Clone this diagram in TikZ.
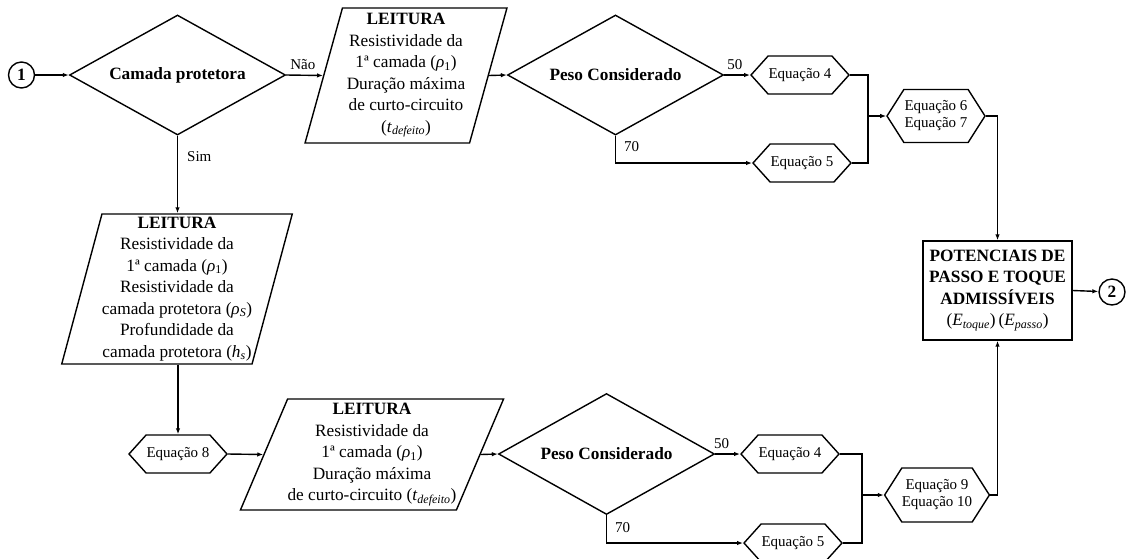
\documentclass[tikz,border=0pt]{standalone}
\usepackage{fontspec}
\setmainfont{Liberation Serif}
\usetikzlibrary{shapes.geometric,shapes.symbols,arrows.meta}

% variable with an italic subscript, set in the text font
\newcommand{\varsub}[2]{(\textit{#1}\textsubscript{#2})}

\begin{document}
\begin{tikzpicture}[x=1pt,y=-1pt,
  line width=1.4pt,
  big/.style={font=\fontsize{17.28}{21.5}\selectfont},
  small/.style={font=\fontsize{15}{17}\selectfont},
  flow/.style={-{Latex[length=6pt,width=4.5pt]}},
  decision/.style={diamond,draw,big,inner sep=0pt,aspect=1.8,minimum width=216,minimum height=120},
  readbox/.style={trapezium,draw,big,align=center,inner sep=0pt,trapezium stretches=true},
  calc/.style={signal,signal to=west and east,draw,small,align=center,inner sep=0pt,minimum width=98},
  connector/.style={circle,draw,font=\fontsize{17.28}{20}\selectfont\bfseries,inner sep=0pt,minimum size=26},
  resultbox/.style={rectangle,draw,big,align=center,inner sep=0pt,minimum width=149,minimum height=99},
  tag/.style={small,inner sep=0pt}
]
\useasboundingbox (0,0) rectangle (1127,558);

% ---- upper branch ----
\node[connector] (c1) at (21.5,75) {1};
\node[decision] (d1) at (177.5,75) {\bfseries Camada protetora};
\node[readbox,trapezium left angle=74.3,trapezium right angle=105.7,
      minimum width=202,minimum height=135] (p1) at (406,75.5)
  {\textbf{LEITURA}\\Resistividade da\\1ª camada \varsub{ρ}{1}\\Duração máxima\\de curto-circuito\\\varsub{t}{\textit{defeito}}};
\node[decision] (d2) at (615.5,75) {\bfseries Peso Considerado};
\node[calc,minimum height=38,signal pointer angle=96] (e4a) at (800,75) {Equação 4};
\node[calc,minimum height=38,signal pointer angle=96] (e5a) at (802,163) {Equação 5};
\node[calc,minimum height=53,signal pointer angle=115] (e67) at (936,116) {Equação 6\\Equação 7};
\coordinate (j1) at (868,116);

% ---- result ----
\node[resultbox] (pot) at (997.5,290.5)
  {\textbf{POTENCIAIS DE}\\\textbf{PASSO E TOQUE}\\\textbf{ADMISSÍVEIS}\\\varsub{E}{\textit{toque}}\,\varsub{E}{\textit{passo}}};
\node[connector] (c2) at (1112,292) {2};

% ---- lower branch ----
\node[readbox,trapezium left angle=74.4,trapezium right angle=105.6,
      minimum width=216,minimum height=150] (p2) at (177,289)
  {\textbf{LEITURA}\\Resistividade da\\1ª camada \varsub{ρ}{1}\\Resistividade da\\camada protetora \varsub{ρ}{\textit{S}}\\Profundidade da\\camada protetora \varsub{h}{\textit{s}}};
\node[calc,minimum height=38,signal pointer angle=96] (e8) at (178,454) {Equação 8};
\node[readbox,trapezium left angle=65.3,trapezium right angle=114.7,
      minimum width=246,minimum height=111] (p3) at (372,454.5)
  {\textbf{LEITURA}\\Resistividade da\\1ª camada \varsub{ρ}{1}\\Duração máxima\\de curto-circuito \varsub{t}{\textit{defeito}}};
\node[decision,minimum height=121] (d3) at (606.5,454) {\bfseries Peso Considerado};
\node[calc,minimum height=38,signal pointer angle=96] (e4b) at (790,454) {Equação 4};
\node[calc,minimum height=38,signal pointer angle=96] (e5b) at (793,543) {Equação 5};
\node[calc,minimum height=54,signal pointer angle=115] (e910) at (937,495) {Equação 9\\Equação 10};
\coordinate (j2) at (862,495);

% ---- connectors, upper branch ----
\draw[flow] (c1) -- (d1.west);
\draw[flow] (d1.east) -- (p1.west) node[tag,pos=0.45,above=5pt] {Não};
\draw[flow] (p1.east) -- (d2.west);
\draw[flow] (d2.east) -- (e4a.west) node[tag,pos=0.41,above=5pt] {50};
\draw[flow] (d2.south) |- (e5a.west) node[tag,pos=0.2,right=8pt] {70};
\draw (e4a.east) -| (j1) |- (e5a.east);
\draw[flow] (j1) -- (e67.west);
\draw[flow] (e67.east) -| (pot.north);

% ---- connectors, lower branch ----
\draw[flow] (d1.south) -- (d1.south |- p2.north) node[tag,pos=0.27,right=9pt] {Sim};
\draw[flow] (e8.north |- p2.south) -- (e8.north);
\draw[flow] (e8.east) -- (p3.west);
\draw[flow] (p3.east) -- (d3.west);
\draw[flow] (d3.east) -- (e4b.west) node[tag,pos=0.26,above=5pt] {50};
\draw[flow] (d3.south) |- (e5b.west) node[tag,pos=0.23,right=8pt] {70};
\draw (e4b.east) -| (j2) |- (e5b.east);
\draw[flow] (j2) -- (e910.west);
\draw[flow] (e910.east) -| (pot.south);
\draw[flow] (pot.east) -- (c2);
\end{tikzpicture}
\end{document}
